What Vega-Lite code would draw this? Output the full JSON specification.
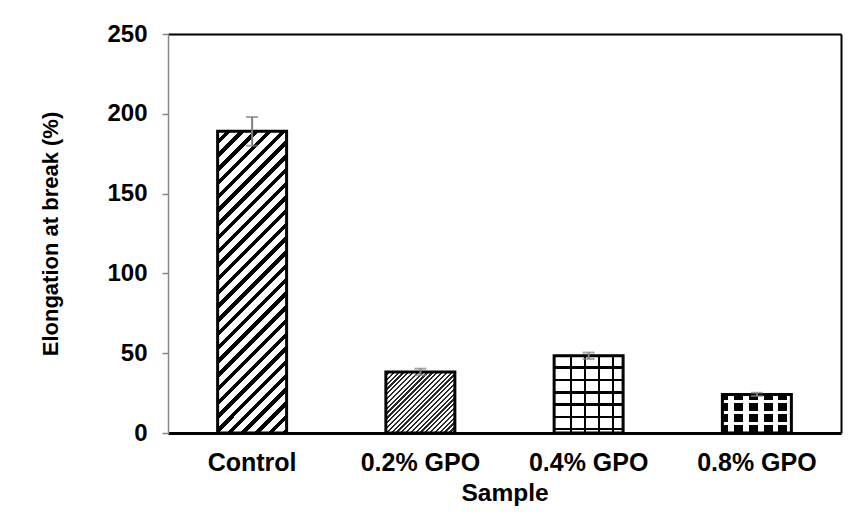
{
  "$schema": "https://vega.github.io/schema/vega-lite/v6.json",
  "width": 673,
  "height": 399,
  "autosize": {"type": "none"},
  "padding": {"left": 168, "top": 34, "right": 12, "bottom": 89},
  "background": "white",
  "config": {
    "view": {"stroke": null},
    "font": "Liberation Sans",
    "axis": {"grid": false}
  },
  "data": {
    "values": [
      {"Sample": "Control", "value": 189, "lo": 180, "hi": 198},
      {"Sample": "0.2% GPO", "value": 38.2, "lo": 36.2, "hi": 40.3},
      {"Sample": "0.4% GPO", "value": 48.4, "lo": 46.4, "hi": 50.4},
      {"Sample": "0.8% GPO", "value": 24.2, "lo": 23.2, "hi": 25.2}
    ]
  },
  "layer": [
    {
      "mark": {"type": "bar", "strokeWidth": 0},
      "encoding": {
        "x": {
          "field": "Sample", "type": "nominal", "sort": null,
          "scale": {"paddingInner": 0.59, "paddingOuter": 0.295},
          "axis": {
            "orient": "bottom", "title": "Sample", "labelAngle": 0,
            "domainColor": "black", "domainWidth": 3,
            "ticks": false, "tickSize": 0, "labelPadding": 17,
            "labelFont": "Liberation Sans", "labelFontSize": 25, "labelFontWeight": "bold", "labelColor": "black",
            "titleFont": "Liberation Sans", "titleFontSize": 24.5, "titleFontWeight": "bold", "titleColor": "black",
            "titlePadding": 6
          }
        },
        "y": {
          "field": "value", "type": "quantitative",
          "scale": {"domain": [0, 250], "nice": false},
          "axis": {
            "orient": "left", "title": "Elongation at break (%)",
            "values": [0, 50, 100, 150, 200, 250],
            "domainColor": "#868686", "domainWidth": 1.5,
            "tickColor": "#868686", "tickWidth": 1.5, "tickSize": 6,
            "labelPadding": 15,
            "labelFont": "Liberation Sans", "labelFontSize": 24, "labelFontWeight": "bold", "labelColor": "black",
            "titleFont": "Liberation Sans", "titleFontSize": 22, "titleFontWeight": "bold", "titleColor": "black",
            "titlePadding": 44
          }
        },
        "fill": {
          "condition": [
            {
              "test": "datum.Sample === 'Control'",
              "value": {
                "gradient": "linear", "x1": 0, "y1": 0, "x2": 0.26714, "y2": 1.16768,
                "stops": [
                  {"offset": 0, "color": "white"}, {"offset": 0.02222, "color": "white"}, {"offset": 0.02222, "color": "black"}, {"offset": 0.03704, "color": "black"},
                  {"offset": 0.03704, "color": "white"}, {"offset": 0.05926, "color": "white"}, {"offset": 0.05926, "color": "black"}, {"offset": 0.07407, "color": "black"},
                  {"offset": 0.07407, "color": "white"}, {"offset": 0.0963, "color": "white"}, {"offset": 0.0963, "color": "black"}, {"offset": 0.11111, "color": "black"},
                  {"offset": 0.11111, "color": "white"}, {"offset": 0.13333, "color": "white"}, {"offset": 0.13333, "color": "black"}, {"offset": 0.14815, "color": "black"},
                  {"offset": 0.14815, "color": "white"}, {"offset": 0.17037, "color": "white"}, {"offset": 0.17037, "color": "black"}, {"offset": 0.18519, "color": "black"},
                  {"offset": 0.18519, "color": "white"}, {"offset": 0.20741, "color": "white"}, {"offset": 0.20741, "color": "black"}, {"offset": 0.22222, "color": "black"},
                  {"offset": 0.22222, "color": "white"}, {"offset": 0.24444, "color": "white"}, {"offset": 0.24444, "color": "black"}, {"offset": 0.25926, "color": "black"},
                  {"offset": 0.25926, "color": "white"}, {"offset": 0.28148, "color": "white"}, {"offset": 0.28148, "color": "black"}, {"offset": 0.2963, "color": "black"},
                  {"offset": 0.2963, "color": "white"}, {"offset": 0.31852, "color": "white"}, {"offset": 0.31852, "color": "black"}, {"offset": 0.33333, "color": "black"},
                  {"offset": 0.33333, "color": "white"}, {"offset": 0.35556, "color": "white"}, {"offset": 0.35556, "color": "black"}, {"offset": 0.37037, "color": "black"},
                  {"offset": 0.37037, "color": "white"}, {"offset": 0.39259, "color": "white"}, {"offset": 0.39259, "color": "black"}, {"offset": 0.40741, "color": "black"},
                  {"offset": 0.40741, "color": "white"}, {"offset": 0.42963, "color": "white"}, {"offset": 0.42963, "color": "black"}, {"offset": 0.44444, "color": "black"},
                  {"offset": 0.44444, "color": "white"}, {"offset": 0.46667, "color": "white"}, {"offset": 0.46667, "color": "black"}, {"offset": 0.48148, "color": "black"},
                  {"offset": 0.48148, "color": "white"}, {"offset": 0.5037, "color": "white"}, {"offset": 0.5037, "color": "black"}, {"offset": 0.51852, "color": "black"},
                  {"offset": 0.51852, "color": "white"}, {"offset": 0.54074, "color": "white"}, {"offset": 0.54074, "color": "black"}, {"offset": 0.55556, "color": "black"},
                  {"offset": 0.55556, "color": "white"}, {"offset": 0.57778, "color": "white"}, {"offset": 0.57778, "color": "black"}, {"offset": 0.59259, "color": "black"},
                  {"offset": 0.59259, "color": "white"}, {"offset": 0.61481, "color": "white"}, {"offset": 0.61481, "color": "black"}, {"offset": 0.62963, "color": "black"},
                  {"offset": 0.62963, "color": "white"}, {"offset": 0.65185, "color": "white"}, {"offset": 0.65185, "color": "black"}, {"offset": 0.66667, "color": "black"},
                  {"offset": 0.66667, "color": "white"}, {"offset": 0.68889, "color": "white"}, {"offset": 0.68889, "color": "black"}, {"offset": 0.7037, "color": "black"},
                  {"offset": 0.7037, "color": "white"}, {"offset": 0.72593, "color": "white"}, {"offset": 0.72593, "color": "black"}, {"offset": 0.74074, "color": "black"},
                  {"offset": 0.74074, "color": "white"}, {"offset": 0.76296, "color": "white"}, {"offset": 0.76296, "color": "black"}, {"offset": 0.77778, "color": "black"},
                  {"offset": 0.77778, "color": "white"}, {"offset": 0.8, "color": "white"}, {"offset": 0.8, "color": "black"}, {"offset": 0.81481, "color": "black"},
                  {"offset": 0.81481, "color": "white"}, {"offset": 0.83704, "color": "white"}, {"offset": 0.83704, "color": "black"}, {"offset": 0.85185, "color": "black"},
                  {"offset": 0.85185, "color": "white"}, {"offset": 0.87407, "color": "white"}, {"offset": 0.87407, "color": "black"}, {"offset": 0.88889, "color": "black"},
                  {"offset": 0.88889, "color": "white"}, {"offset": 0.91111, "color": "white"}, {"offset": 0.91111, "color": "black"}, {"offset": 0.92593, "color": "black"},
                  {"offset": 0.92593, "color": "white"}, {"offset": 0.94815, "color": "white"}, {"offset": 0.94815, "color": "black"}, {"offset": 0.96296, "color": "black"},
                  {"offset": 0.96296, "color": "white"}, {"offset": 0.98519, "color": "white"}, {"offset": 0.98519, "color": "black"}, {"offset": 1, "color": "black"}
                ]
              }
            },
            {
              "test": "datum.Sample === '0.2% GPO'",
              "value": {
                "gradient": "linear", "x1": 0, "y1": 0, "x2": 1.0576, "y2": 0.9349,
                "stops": [
                  {"offset": 0, "color": "white"}, {"offset": 0.01944, "color": "white"}, {"offset": 0.01944, "color": "#2a2a2a"}, {"offset": 0.03704, "color": "#2a2a2a"},
                  {"offset": 0.03704, "color": "white"}, {"offset": 0.05648, "color": "white"}, {"offset": 0.05648, "color": "#2a2a2a"}, {"offset": 0.07407, "color": "#2a2a2a"},
                  {"offset": 0.07407, "color": "white"}, {"offset": 0.09352, "color": "white"}, {"offset": 0.09352, "color": "#2a2a2a"}, {"offset": 0.11111, "color": "#2a2a2a"},
                  {"offset": 0.11111, "color": "white"}, {"offset": 0.13056, "color": "white"}, {"offset": 0.13056, "color": "#2a2a2a"}, {"offset": 0.14815, "color": "#2a2a2a"},
                  {"offset": 0.14815, "color": "white"}, {"offset": 0.16759, "color": "white"}, {"offset": 0.16759, "color": "#2a2a2a"}, {"offset": 0.18519, "color": "#2a2a2a"},
                  {"offset": 0.18519, "color": "white"}, {"offset": 0.20463, "color": "white"}, {"offset": 0.20463, "color": "#2a2a2a"}, {"offset": 0.22222, "color": "#2a2a2a"},
                  {"offset": 0.22222, "color": "white"}, {"offset": 0.24167, "color": "white"}, {"offset": 0.24167, "color": "#2a2a2a"}, {"offset": 0.25926, "color": "#2a2a2a"},
                  {"offset": 0.25926, "color": "white"}, {"offset": 0.2787, "color": "white"}, {"offset": 0.2787, "color": "#2a2a2a"}, {"offset": 0.2963, "color": "#2a2a2a"},
                  {"offset": 0.2963, "color": "white"}, {"offset": 0.31574, "color": "white"}, {"offset": 0.31574, "color": "#2a2a2a"}, {"offset": 0.33333, "color": "#2a2a2a"},
                  {"offset": 0.33333, "color": "white"}, {"offset": 0.35278, "color": "white"}, {"offset": 0.35278, "color": "#2a2a2a"}, {"offset": 0.37037, "color": "#2a2a2a"},
                  {"offset": 0.37037, "color": "white"}, {"offset": 0.38981, "color": "white"}, {"offset": 0.38981, "color": "#2a2a2a"}, {"offset": 0.40741, "color": "#2a2a2a"},
                  {"offset": 0.40741, "color": "white"}, {"offset": 0.42685, "color": "white"}, {"offset": 0.42685, "color": "#2a2a2a"}, {"offset": 0.44444, "color": "#2a2a2a"},
                  {"offset": 0.44444, "color": "white"}, {"offset": 0.46389, "color": "white"}, {"offset": 0.46389, "color": "#2a2a2a"}, {"offset": 0.48148, "color": "#2a2a2a"},
                  {"offset": 0.48148, "color": "white"}, {"offset": 0.50093, "color": "white"}, {"offset": 0.50093, "color": "#2a2a2a"}, {"offset": 0.51852, "color": "#2a2a2a"},
                  {"offset": 0.51852, "color": "white"}, {"offset": 0.53796, "color": "white"}, {"offset": 0.53796, "color": "#2a2a2a"}, {"offset": 0.55556, "color": "#2a2a2a"},
                  {"offset": 0.55556, "color": "white"}, {"offset": 0.575, "color": "white"}, {"offset": 0.575, "color": "#2a2a2a"}, {"offset": 0.59259, "color": "#2a2a2a"},
                  {"offset": 0.59259, "color": "white"}, {"offset": 0.61204, "color": "white"}, {"offset": 0.61204, "color": "#2a2a2a"}, {"offset": 0.62963, "color": "#2a2a2a"},
                  {"offset": 0.62963, "color": "white"}, {"offset": 0.64907, "color": "white"}, {"offset": 0.64907, "color": "#2a2a2a"}, {"offset": 0.66667, "color": "#2a2a2a"},
                  {"offset": 0.66667, "color": "white"}, {"offset": 0.68611, "color": "white"}, {"offset": 0.68611, "color": "#2a2a2a"}, {"offset": 0.7037, "color": "#2a2a2a"},
                  {"offset": 0.7037, "color": "white"}, {"offset": 0.72315, "color": "white"}, {"offset": 0.72315, "color": "#2a2a2a"}, {"offset": 0.74074, "color": "#2a2a2a"},
                  {"offset": 0.74074, "color": "white"}, {"offset": 0.76019, "color": "white"}, {"offset": 0.76019, "color": "#2a2a2a"}, {"offset": 0.77778, "color": "#2a2a2a"},
                  {"offset": 0.77778, "color": "white"}, {"offset": 0.79722, "color": "white"}, {"offset": 0.79722, "color": "#2a2a2a"}, {"offset": 0.81481, "color": "#2a2a2a"},
                  {"offset": 0.81481, "color": "white"}, {"offset": 0.83426, "color": "white"}, {"offset": 0.83426, "color": "#2a2a2a"}, {"offset": 0.85185, "color": "#2a2a2a"},
                  {"offset": 0.85185, "color": "white"}, {"offset": 0.8713, "color": "white"}, {"offset": 0.8713, "color": "#2a2a2a"}, {"offset": 0.88889, "color": "#2a2a2a"},
                  {"offset": 0.88889, "color": "white"}, {"offset": 0.90833, "color": "white"}, {"offset": 0.90833, "color": "#2a2a2a"}, {"offset": 0.92593, "color": "#2a2a2a"},
                  {"offset": 0.92593, "color": "white"}, {"offset": 0.94537, "color": "white"}, {"offset": 0.94537, "color": "#2a2a2a"}, {"offset": 0.96296, "color": "#2a2a2a"},
                  {"offset": 0.96296, "color": "white"}, {"offset": 0.98241, "color": "white"}, {"offset": 0.98241, "color": "#2a2a2a"}, {"offset": 1, "color": "#2a2a2a"}
                ]
              }
            },
            {
              "test": "datum.Sample === '0.4% GPO'",
              "value": {
                "gradient": "linear", "x1": 0, "y1": 0, "x2": 1, "y2": 0,
                "stops": [
                  {"offset": 0, "color": "white"}, {"offset": 0.224, "color": "white"}, {"offset": 0.224, "color": "black"}, {"offset": 0.26, "color": "black"},
                  {"offset": 0.26, "color": "white"}, {"offset": 0.427, "color": "white"}, {"offset": 0.427, "color": "black"}, {"offset": 0.463, "color": "black"},
                  {"offset": 0.463, "color": "white"}, {"offset": 0.634, "color": "white"}, {"offset": 0.634, "color": "black"}, {"offset": 0.67, "color": "black"},
                  {"offset": 0.67, "color": "white"}, {"offset": 0.837, "color": "white"}, {"offset": 0.837, "color": "black"}, {"offset": 0.873, "color": "black"},
                  {"offset": 0.873, "color": "white"}, {"offset": 1, "color": "white"}
                ]
              }
            }
          ],
          "value": "white"
        }
      }
    },
    {
      "transform": [{"filter": "datum.Sample === '0.4% GPO' || datum.Sample === '0.8% GPO'"}],
      "mark": {"type": "bar", "strokeWidth": 0},
      "encoding": {
        "x": {"field": "Sample", "type": "nominal", "sort": null, "axis": null},
        "y": {"field": "value", "type": "quantitative", "axis": null},
        "fill": {
          "condition": [
            {
              "test": "datum.Sample === '0.4% GPO'",
              "value": {
                "gradient": "linear", "x1": 0, "y1": 0, "x2": 0, "y2": 1,
                "stops": [
                  {"offset": 0, "color": "rgba(0,0,0,0)"}, {"offset": 0.1345, "color": "rgba(0,0,0,0)"}, {"offset": 0.1345, "color": "black"}, {"offset": 0.1655, "color": "black"},
                  {"offset": 0.1655, "color": "rgba(0,0,0,0)"}, {"offset": 0.2995, "color": "rgba(0,0,0,0)"}, {"offset": 0.2995, "color": "black"}, {"offset": 0.3305, "color": "black"},
                  {"offset": 0.3305, "color": "rgba(0,0,0,0)"}, {"offset": 0.4585, "color": "rgba(0,0,0,0)"}, {"offset": 0.4585, "color": "black"}, {"offset": 0.4895, "color": "black"},
                  {"offset": 0.4895, "color": "rgba(0,0,0,0)"}, {"offset": 0.6135, "color": "rgba(0,0,0,0)"}, {"offset": 0.6135, "color": "black"}, {"offset": 0.6445, "color": "black"},
                  {"offset": 0.6445, "color": "rgba(0,0,0,0)"}, {"offset": 0.7745, "color": "rgba(0,0,0,0)"}, {"offset": 0.7745, "color": "black"}, {"offset": 0.8055, "color": "black"},
                  {"offset": 0.8055, "color": "rgba(0,0,0,0)"}, {"offset": 0.9335, "color": "rgba(0,0,0,0)"}, {"offset": 0.9335, "color": "black"}, {"offset": 0.9645, "color": "black"},
                  {"offset": 0.9645, "color": "rgba(0,0,0,0)"}, {"offset": 1, "color": "rgba(0,0,0,0)"}
                ]
              }
            }
          ],
          "value": {
            "gradient": "linear", "x1": 0, "y1": 0, "x2": 0, "y2": 1,
            "stops": [
              {"offset": 0, "color": "black"}, {"offset": 0.155, "color": "black"}, {"offset": 0.155, "color": "rgba(0,0,0,0)"}, {"offset": 0.233, "color": "rgba(0,0,0,0)"},
              {"offset": 0.233, "color": "black"}, {"offset": 0.441, "color": "black"}, {"offset": 0.441, "color": "rgba(0,0,0,0)"}, {"offset": 0.517, "color": "rgba(0,0,0,0)"},
              {"offset": 0.517, "color": "black"}, {"offset": 0.725, "color": "black"}, {"offset": 0.725, "color": "rgba(0,0,0,0)"}, {"offset": 0.802, "color": "rgba(0,0,0,0)"},
              {"offset": 0.802, "color": "black"}, {"offset": 1, "color": "black"}
            ]
          }
        }
      }
    },
    {
      "transform": [{"filter": "datum.Sample === '0.8% GPO'"}],
      "mark": {
        "type": "bar", "strokeWidth": 0,
        "fill": {
          "gradient": "linear", "x1": 0, "y1": 0, "x2": 1, "y2": 0,
          "stops": [
            {"offset": 0, "color": "rgba(255,255,255,0)"}, {"offset": 0.087, "color": "rgba(255,255,255,0)"}, {"offset": 0.087, "color": "white"}, {"offset": 0.167, "color": "white"},
            {"offset": 0.167, "color": "rgba(255,255,255,0)"}, {"offset": 0.297, "color": "rgba(255,255,255,0)"}, {"offset": 0.297, "color": "white"}, {"offset": 0.384, "color": "white"},
            {"offset": 0.384, "color": "rgba(255,255,255,0)"}, {"offset": 0.514, "color": "rgba(255,255,255,0)"}, {"offset": 0.514, "color": "white"}, {"offset": 0.602, "color": "white"},
            {"offset": 0.602, "color": "rgba(255,255,255,0)"}, {"offset": 0.732, "color": "rgba(255,255,255,0)"}, {"offset": 0.732, "color": "white"}, {"offset": 0.812, "color": "white"},
            {"offset": 0.812, "color": "rgba(255,255,255,0)"}, {"offset": 0.942, "color": "rgba(255,255,255,0)"}, {"offset": 0.942, "color": "white"}, {"offset": 1, "color": "white"}
          ]
        }
      },
      "encoding": {
        "x": {"field": "Sample", "type": "nominal", "sort": null, "axis": null},
        "y": {"field": "value", "type": "quantitative", "axis": null}
      }
    },
    {
      "mark": {"type": "bar", "fillOpacity": 0, "stroke": "black", "strokeWidth": 3},
      "encoding": {
        "x": {
          "field": "Sample", "type": "nominal", "sort": null,
          "axis": {"orient": "top", "title": null, "labels": false, "ticks": false, "domainColor": "black", "domainWidth": 2}
        },
        "y": {
          "field": "value", "type": "quantitative",
          "axis": {"orient": "right", "title": null, "labels": false, "ticks": false, "domainColor": "black", "domainWidth": 2}
        }
      }
    },
    {
      "mark": {"type": "rule", "color": "#7f7f7f", "strokeWidth": 2},
      "encoding": {
        "x": {"field": "Sample", "type": "nominal", "sort": null, "axis": null},
        "y": {"field": "lo", "type": "quantitative", "axis": null},
        "y2": {"field": "hi"}
      }
    },
    {
      "mark": {"type": "tick", "color": "#7f7f7f", "size": 12, "thickness": 2},
      "encoding": {
        "x": {"field": "Sample", "type": "nominal", "sort": null, "axis": null},
        "y": {"field": "hi", "type": "quantitative", "axis": null}
      }
    },
    {
      "mark": {"type": "tick", "color": "#7f7f7f", "size": 12, "thickness": 2},
      "encoding": {
        "x": {"field": "Sample", "type": "nominal", "sort": null, "axis": null},
        "y": {"field": "lo", "type": "quantitative", "axis": null}
      }
    }
  ],
  "resolve": {"axis": {"x": "independent", "y": "independent"}}
}
